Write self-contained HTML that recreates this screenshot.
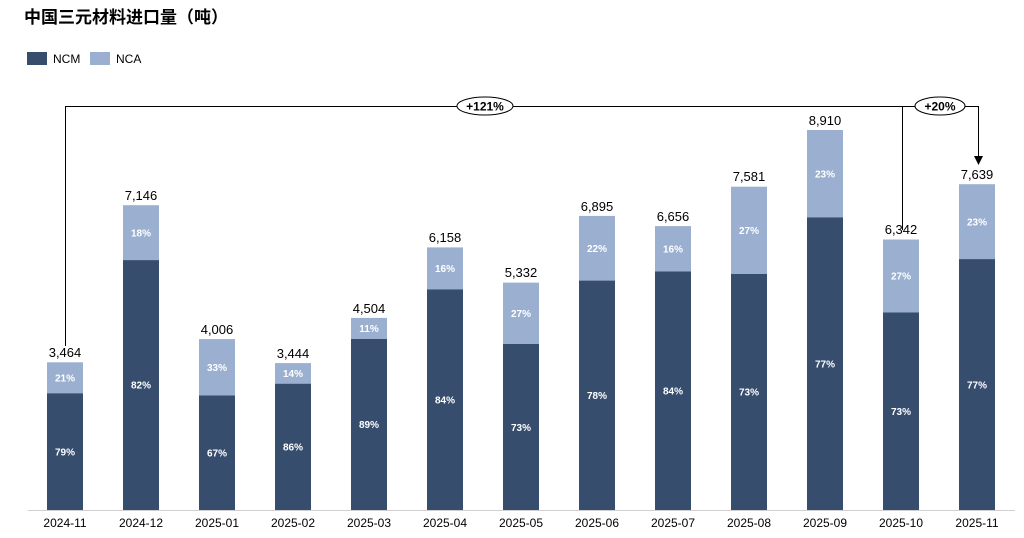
<!DOCTYPE html>
<html><head><meta charset="utf-8"><style>
body{margin:0;background:#fff;width:1024px;height:538px;overflow:hidden}
svg{display:block}
text{font-family:"Liberation Sans","Noto Sans CJK SC",sans-serif}
.v{font-size:13px;fill:#000;text-anchor:middle}
.p{font-size:10px;fill:#fff;text-anchor:middle;font-weight:bold}
.x{font-size:12px;fill:#000;text-anchor:middle}
.a{fill:#364d6e}.b{fill:#9bb0d0}
</style></head><body>
<svg width="1024" height="538" viewBox="0 0 1024 538">
<text x="24" y="23" font-size="17" font-weight="bold" fill="#000">中国三元材料进口量（吨）</text>
<rect x="27" y="52" width="20" height="13" class="a"/><text x="53" y="63" font-size="12">NCM</text>
<rect x="90" y="52" width="20" height="13" class="b"/><text x="116" y="63" font-size="12">NCA</text>
<line x1="28" y1="510.5" x2="1015" y2="510.5" stroke="#d0d0d0"/>
<g id="bars">
<rect x="47" y="362.3" width="36" height="31" class="b"/><rect x="47" y="393.3" width="36" height="116.7" class="a"/>
<rect x="123" y="205.2" width="36" height="54.9" class="b"/><rect x="123" y="260.1" width="36" height="249.9" class="a"/>
<rect x="199" y="339.1" width="36" height="56.4" class="b"/><rect x="199" y="395.5" width="36" height="114.5" class="a"/>
<rect x="275" y="363.1" width="36" height="20.6" class="b"/><rect x="275" y="383.7" width="36" height="126.3" class="a"/>
<rect x="351" y="317.9" width="36" height="21.1" class="b"/><rect x="351" y="339" width="36" height="171" class="a"/>
<rect x="427" y="247.4" width="36" height="42" class="b"/><rect x="427" y="289.4" width="36" height="220.6" class="a"/>
<rect x="503" y="282.6" width="36" height="61.4" class="b"/><rect x="503" y="344" width="36" height="166" class="a"/>
<rect x="579" y="215.9" width="36" height="64.7" class="b"/><rect x="579" y="280.6" width="36" height="229.4" class="a"/>
<rect x="655" y="226.1" width="36" height="45.4" class="b"/><rect x="655" y="271.5" width="36" height="238.5" class="a"/>
<rect x="731" y="186.7" width="36" height="87.3" class="b"/><rect x="731" y="274" width="36" height="236" class="a"/>
<rect x="807" y="130" width="36" height="87.4" class="b"/><rect x="807" y="217.4" width="36" height="292.6" class="a"/>
<rect x="883" y="239.5" width="36" height="73" class="b"/><rect x="883" y="312.5" width="36" height="197.5" class="a"/>
<rect x="959" y="184.2" width="36" height="74.9" class="b"/><rect x="959" y="259.1" width="36" height="250.9" class="a"/>
</g>
<g class="pl">
<text class="p" x="65" y="381.5">21%</text><text class="p" x="65" y="455.5">79%</text>
<text class="p" x="141" y="236.5">18%</text><text class="p" x="141" y="388.5">82%</text>
<text class="p" x="217" y="371">33%</text><text class="p" x="217" y="456.5">67%</text>
<text class="p" x="293" y="377">14%</text><text class="p" x="293" y="450.5">86%</text>
<text class="p" x="369" y="332">11%</text><text class="p" x="369" y="428">89%</text>
<text class="p" x="445" y="272">16%</text><text class="p" x="445" y="403.5">84%</text>
<text class="p" x="521" y="317">27%</text><text class="p" x="521" y="431">73%</text>
<text class="p" x="597" y="252">22%</text><text class="p" x="597" y="399">78%</text>
<text class="p" x="673" y="252.5">16%</text><text class="p" x="673" y="394.5">84%</text>
<text class="p" x="749" y="234">27%</text><text class="p" x="749" y="395.5">73%</text>
<text class="p" x="825" y="177.5">23%</text><text class="p" x="825" y="367.5">77%</text>
<text class="p" x="901" y="279.5">27%</text><text class="p" x="901" y="415">73%</text>
<text class="p" x="977" y="225.5">23%</text><text class="p" x="977" y="388.5">77%</text>
</g>
<g>
<text class="v" x="65" y="357">3,464</text>
<text class="v" x="141" y="200">7,146</text>
<text class="v" x="217" y="334">4,006</text>
<text class="v" x="293" y="358">3,444</text>
<text class="v" x="369" y="313">4,504</text>
<text class="v" x="445" y="242">6,158</text>
<text class="v" x="521" y="277">5,332</text>
<text class="v" x="597" y="211">6,895</text>
<text class="v" x="673" y="221">6,656</text>
<text class="v" x="749" y="181">7,581</text>
<text class="v" x="825" y="125">8,910</text>
<text class="v" x="901" y="234">6,342</text>
<text class="v" x="977" y="179">7,639</text>
</g>
<g>
<text class="x" x="65" y="527">2024-11</text><text class="x" x="141" y="527">2024-12</text>
<text class="x" x="217" y="527">2025-01</text><text class="x" x="293" y="527">2025-02</text>
<text class="x" x="369" y="527">2025-03</text><text class="x" x="445" y="527">2025-04</text>
<text class="x" x="521" y="527">2025-05</text><text class="x" x="597" y="527">2025-06</text>
<text class="x" x="673" y="527">2025-07</text><text class="x" x="749" y="527">2025-08</text>
<text class="x" x="825" y="527">2025-09</text><text class="x" x="901" y="527">2025-10</text>
<text class="x" x="977" y="527">2025-11</text>
</g>
<g stroke="#000" stroke-width="1" fill="none">
<polyline points="65.5,346 65.5,106.5 978.5,106.5 978.5,157"/>
<line x1="902.5" y1="106.5" x2="902.5" y2="230"/>
</g>
<polygon points="974,156 983,156 978.5,165" fill="#000"/>
<ellipse cx="485" cy="106" rx="28" ry="9" fill="#fff" stroke="#000"/>
<text x="485" y="110.5" font-size="12" font-weight="bold" text-anchor="middle">+121%</text>
<ellipse cx="940" cy="106" rx="25" ry="9" fill="#fff" stroke="#000"/>
<text x="940" y="110.5" font-size="12" font-weight="bold" text-anchor="middle">+20%</text>
</svg>
</body></html>
